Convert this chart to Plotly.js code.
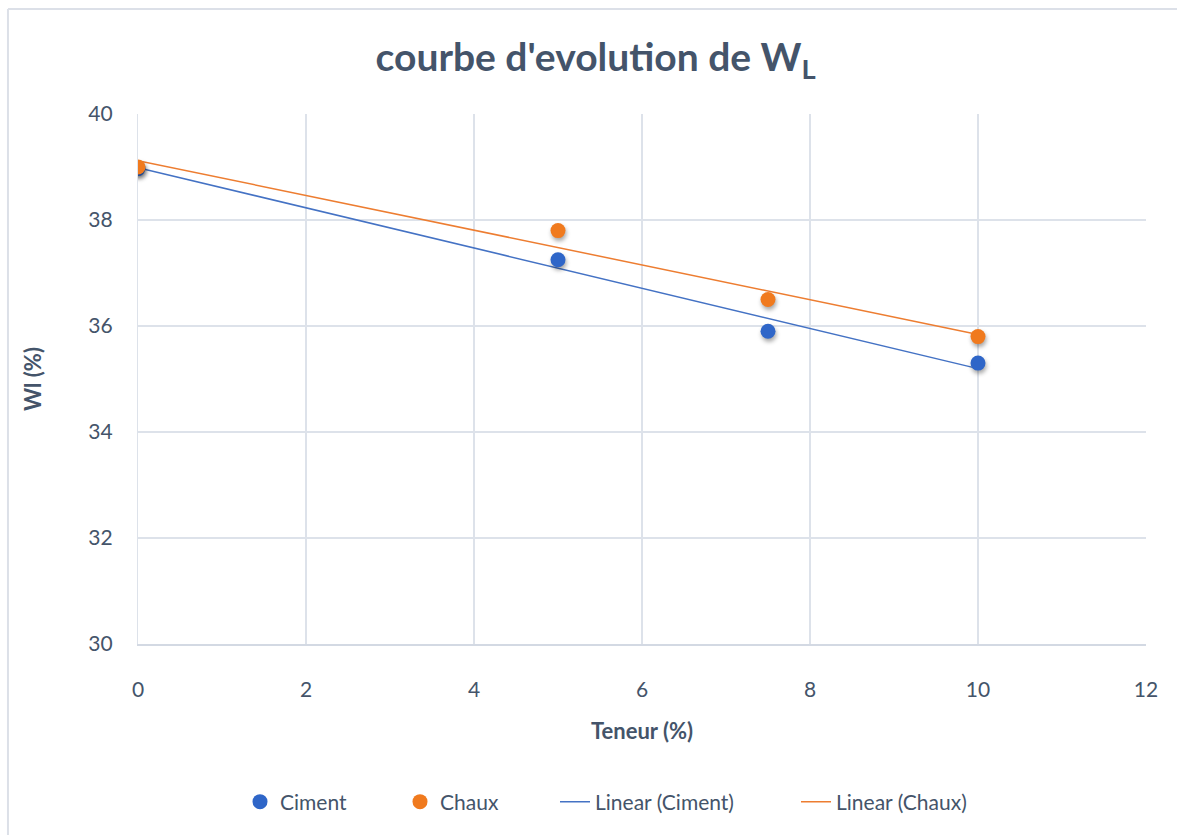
<!DOCTYPE html>
<html>
<head>
<meta charset="utf-8">
<script src="https://cdn.plot.ly/plotly-3.0.1.min.js"></script>
<style>
html,body{margin:0;padding:0;background:#fff;}
#chart{width:1177px;height:835px;}
.scatterlayer .point{filter:drop-shadow(1px 3px 2px rgba(0,0,0,0.35));}
</style>
</head>
<body>
<div id="chart"></div>
<script>
// Data
const teneur = [0, 5, 7.5, 10];
const ciment = [38.97, 37.25, 35.9, 35.3];
const chaux  = [39.0, 37.8, 36.5, 35.8];
const seriesNames = ['Ciment', 'Chaux'];
const xTicks = [0, 2, 4, 6, 8, 10, 12];
const yTicks = [30, 32, 34, 36, 38, 40];

// Least-squares linear trendline (as Excel's "Linear" trendline)
function linearFit(xs, ys) {
  const n = xs.length;
  const mx = xs.reduce((a, b) => a + b, 0) / n;
  const my = ys.reduce((a, b) => a + b, 0) / n;
  let sxy = 0, sxx = 0;
  for (let i = 0; i < n; i++) { sxy += (xs[i] - mx) * (ys[i] - my); sxx += (xs[i] - mx) ** 2; }
  const slope = sxy / sxx;
  const icpt = my - slope * mx;
  const x0 = Math.min(...xs), x1 = Math.max(...xs);
  return { x: [x0, x1], y: [icpt + slope * x0, icpt + slope * x1] };
}
const fitC = linearFit(teneur, ciment);
const fitH = linearFit(teneur, chaux);

const BLUE = '#2F66C8', ORANGE = '#F07A1E';
const LBLUE = '#4472C4', LORANGE = '#ED7D31';
const FONT = 'Lato, "Open Sans", sans-serif';
const TXT = '#44546A';
const LEGFONT = { family: FONT, size: 21, color: TXT };

const traces = [
  { x: fitC.x, y: fitC.y, mode: 'lines', name: 'Linear (' + seriesNames[0] + ')', line: { color: LBLUE, width: 1.5 }, legend: 'legend3', hoverinfo: 'skip' },
  { x: fitH.x, y: fitH.y, mode: 'lines', name: 'Linear (' + seriesNames[1] + ')', line: { color: LORANGE, width: 1.5 }, legend: 'legend4', hoverinfo: 'skip' },
  { x: teneur, y: ciment, mode: 'markers', name: seriesNames[0], marker: { color: BLUE, size: 15 }, legend: 'legend' },
  { x: teneur, y: chaux, mode: 'markers', name: seriesNames[1], marker: { color: ORANGE, size: 15 }, legend: 'legend2' }
];

function leg(px) {
  return { orientation: 'h', x: (px - 138) / 1008, xanchor: 'left', y: (644 - 802) / 530, yanchor: 'middle',
           font: LEGFONT, bgcolor: 'rgba(0,0,0,0)' };
}

const layout = {
  width: 1177, height: 835,
  margin: { l: 138, r: 31, t: 114, b: 191 },
  paper_bgcolor: '#fff', plot_bgcolor: '#fff',
  font: { family: FONT, color: TXT, size: 21 },
  title: {
    text: "<b>courbe d'evolution de W<sub>L</sub></b>",
    font: { family: FONT, size: 39, color: TXT },
    x: 0.506, xref: 'container', xanchor: 'center',
    y: 1 - 57 / 835, yref: 'container', yanchor: 'middle'
  },
  xaxis: {
    range: [0, 12], tickvals: xTicks, ticktext: xTicks.map(String),
    showgrid: true, gridcolor: '#DDE2EA', gridwidth: 1.2,
    zeroline: false, showline: true, linecolor: '#D3D9E3', linewidth: 1.5, mirror: false,
    ticks: '', ticklabelstandoff: 26,
    tickfont: { family: FONT, size: 21, color: TXT },
    title: { text: '<b>Teneur (%)</b>', font: { family: FONT, size: 22, color: TXT }, standoff: 24 }
  },
  yaxis: {
    range: [30, 40], tickvals: yTicks, ticktext: yTicks.map(String),
    showgrid: true, gridcolor: '#DDE2EA', gridwidth: 1.2,
    zeroline: false, showline: true, linecolor: '#DDE2EA', linewidth: 1.2,
    ticks: '', ticklabelstandoff: 20,
    tickfont: { family: FONT, size: 21, color: TXT },
    title: { text: '<b>Wl (%)</b>', font: { family: FONT, size: 22, color: TXT }, standoff: 40 }
  },
  legend: leg(240),
  legend2: leg(400),
  legend3: leg(555),
  legend4: leg(796),
  shapes: [
    { type: 'line', xref: 'paper', yref: 'paper', x0: -0.129, x1: -0.129, y0: 1.198, y1: -0.4, line: { color: '#DCE0E8', width: 2 } },
    { type: 'line', xref: 'paper', yref: 'paper', x0: -0.129, x1: 1.1, y0: 1.198, y1: 1.198, line: { color: '#DCE0E8', width: 2 } }
  ],
  showlegend: true
};

Plotly.newPlot('chart', traces, layout, { staticPlot: true, displayModeBar: false });
</script>
</body>
</html>
